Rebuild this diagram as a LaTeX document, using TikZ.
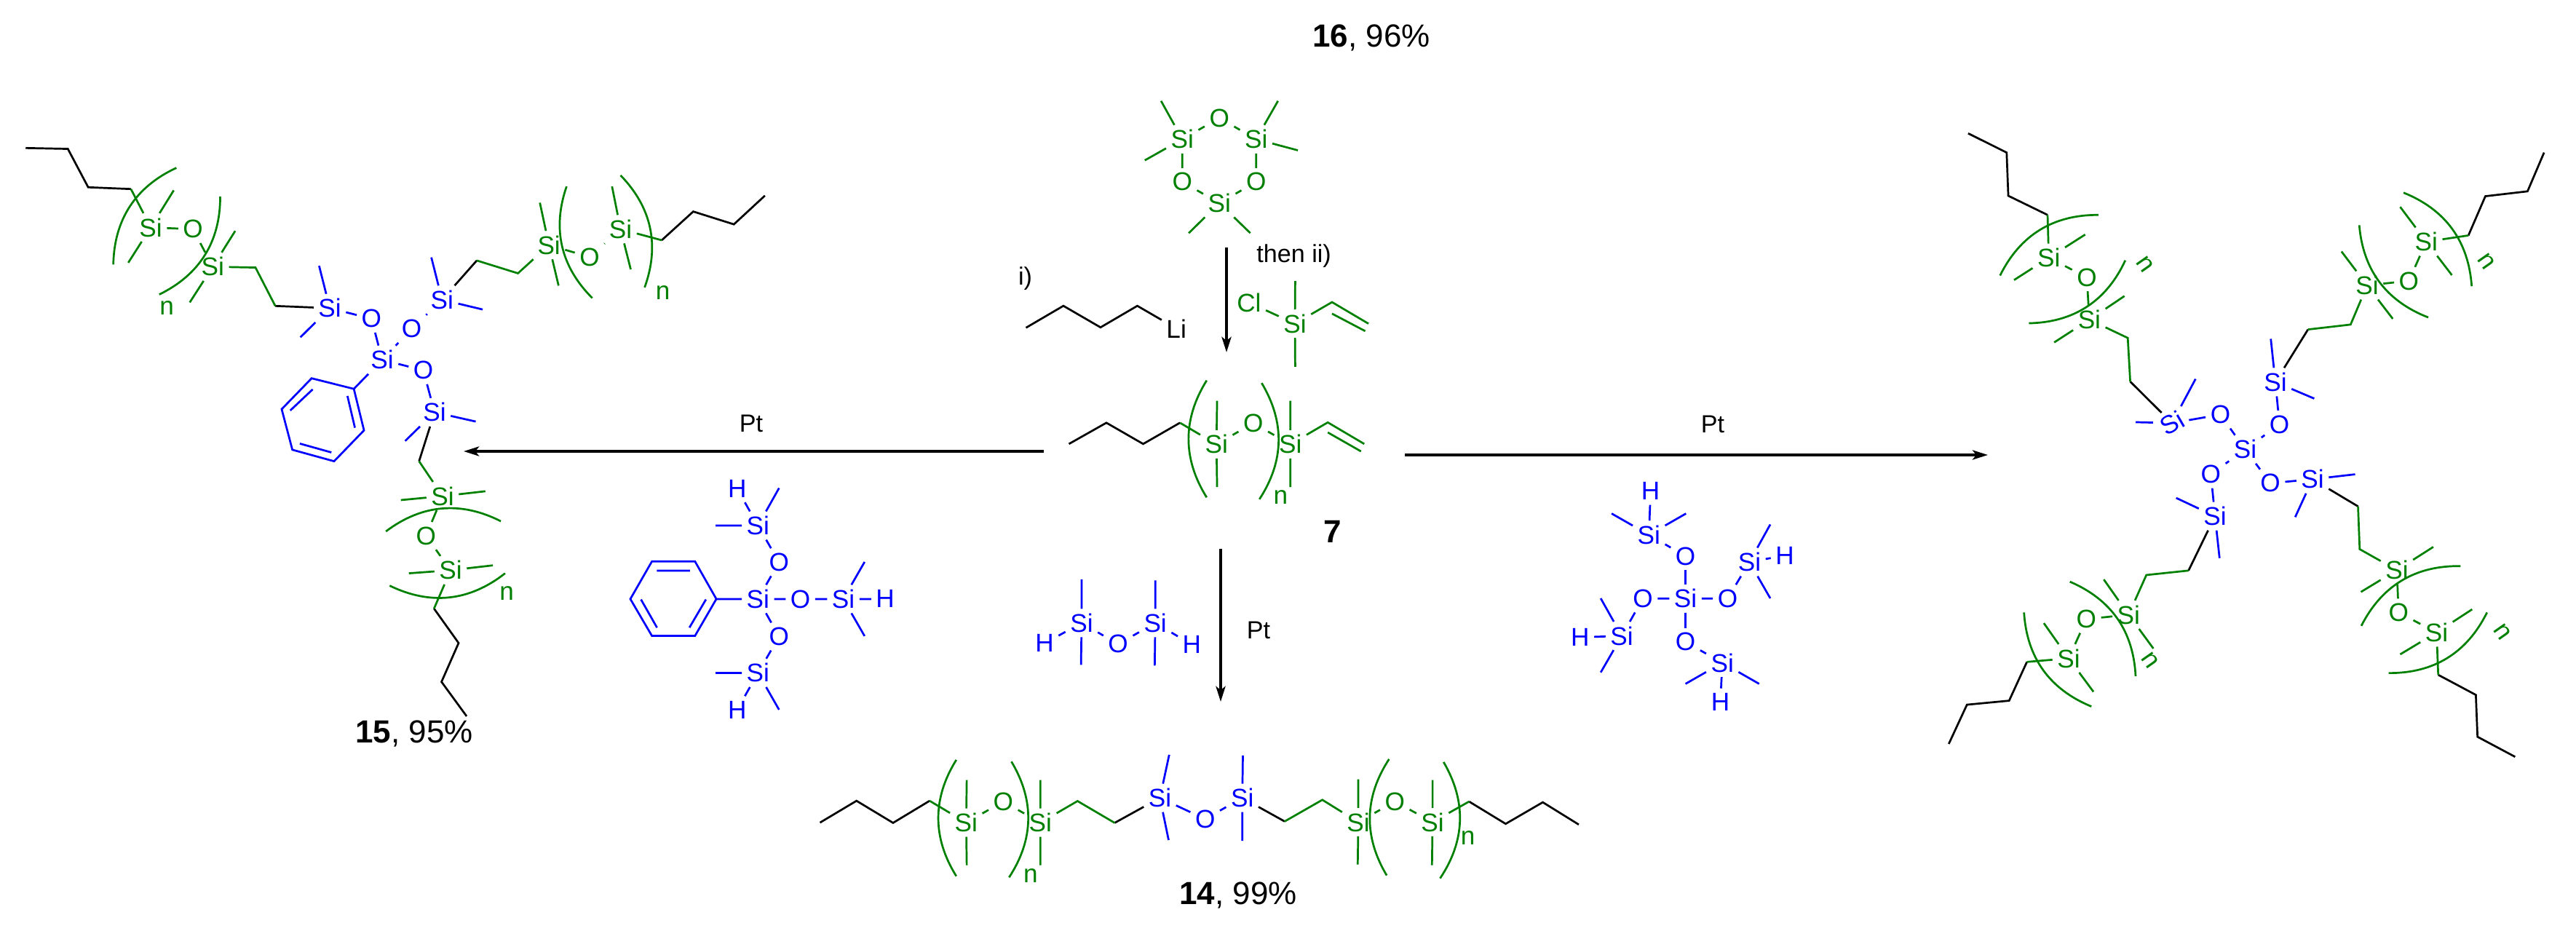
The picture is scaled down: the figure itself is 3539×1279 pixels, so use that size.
\documentclass[tikz,border=0pt]{standalone}
\usepackage{fontspec}
\setmainfont{Liberation Sans}
\usetikzlibrary{arrows.meta}
\definecolor{sigreen}{RGB}{0,128,0}
\definecolor{siblue}{RGB}{0,0,255}
\newcommand{\atomfont}{\fontsize{10}{12}\selectfont}
\tikzset{
  ga/.style={inner sep=1.5pt,font=\atomfont,text=sigreen},
  ba/.style={inner sep=1.5pt,font=\atomfont,text=siblue},
  ka/.style={inner sep=1.5pt,font=\atomfont},
  lab/.style={inner sep=0pt,font=\fontsize{9.7}{11}\selectfont},
  res/.style={inner sep=0pt,font=\fontsize{12.5}{14}\selectfont},
  gb/.style={draw=sigreen},
  bb/.style={draw=siblue},
  pa/.style={bend right=32},
  rxn/.style={line width=1.1pt,-{Stealth[length=0.21cm,width=0.13cm,inset=0.05cm]}},
  frameleft/.style={shift={(0,150)},x=0.007334cm,y=-0.006059cm},
  framemid/.style={shift={(1350,0)},x=0.004464cm,y=-0.005102cm},
  frameright/.style={shift={(2650,130)},x=0.005670cm,y=-0.006122cm},
  framelow/.style={shift={(1050,780)},x=0.007972cm,y=-0.003333cm},
  framephenyl/.style={shift={(850,550)},x=0.003333cm,y=-0.003333cm},
  frametetra/.style={shift={(2050,600)},x=0.003333cm,y=-0.003333cm},
}
\begin{document}
\begin{tikzpicture}[x=0.01cm,y=-0.01cm,line width=0.77pt]
\useasboundingbox (0,0) rectangle (3539,1279);

% arrows and results
\path (1434,620) coordinate (leftfrom) (637,620) coordinate (leftto)
      (1930,625) coordinate (rightfrom) (2731,625) coordinate (rightto)
      (1685,340) coordinate (topfrom) (1685,484) coordinate (topto)
      (1677,754) coordinate (lowfrom) (1677,964) coordinate (lowto);
\draw[rxn] (leftfrom) -- (leftto);
\draw[rxn] (rightfrom) -- (rightto);
\draw[rxn] (topfrom) -- (topto);
\draw[rxn] (lowfrom) -- (lowto);
\path (1032,582) node[lab] (ptleft) {Pt}
      (2353,583) node[lab] (ptright) {Pt}
      (1729,866) node[lab] (ptlow) {Pt}
      (1884,52)  node[res] (res16) {\textbf{16}, 96\%}
      (1701,1230) node[res] (res14) {\textbf{14}, 99\%}
      (569,1008) node[res] (res15) {\textbf{15}, 95\%}
      (1831,730) node[res] (res7) {\textbf{7}};

% cyclic trimer, reagents and 7
\begin{scope}[framemid,name prefix=M-]
\path (613,375) node[ga] (sia) {Si} (727,318) node[ga] (oa) {O}
      (840,375) node[ga] (sib) {Si} (840,490) node[ga] (ob) {O}
      (727,547) node[ga] (sic) {Si} (613,490) node[ga] (oc) {O};
\path (548,272) coordinate (ma1) (498,432) coordinate (ma2)
      (907,272) coordinate (mb1) (968,405) coordinate (mb2)
      (633,628) coordinate (mc1) (822,628) coordinate (mc2);
\draw[gb] (sia) -- (oa) -- (sib) -- (ob) -- (sic) -- (oc) -- (sia);
\draw[gb] (sia) -- (ma1) (sia) -- (ma2) (sib) -- (mb1) (sib) -- (mb2)
          (sic) -- (mc1) (sic) -- (mc2);

% butyl lithium
\path (131,750) node[lab] (ione) {i)} (956,690) node[lab] (itwo) {then ii)}
      (595,885) node[ka] (li) {Li};
\path (133,883) coordinate (bu1) (248,824) coordinate (bu2)
      (362,882) coordinate (bu3) (475,824) coordinate (bu4);
\draw (bu1) -- (bu2) -- (bu3) -- (bu4) -- (li);

% chlorosilane
\path (818,815) node[ga] (cl) {Cl} (959,872) node[ga] (sicl) {Si};
\path (960,757) coordinate (mcl1) (960,988) coordinate (mcl2)
      (1073,814) coordinate (vc1) (1185,872) coordinate (vc2)
      (1073,845) coordinate (vc3) (1175,892) coordinate (vc4);
\draw[gb] (cl) -- (sicl) (sicl) -- (mcl1) (sicl) -- (mcl2) (sicl) -- (vc1) -- (vc2) (vc3) -- (vc4);

% 7
\path (718,1197) node[ga] (si1) {Si} (831,1140) node[ga] (o1) {O}
      (945,1197) node[ga] (si2) {Si} (915,1340) node[ga] (nn) {n};
\path (265,1196) coordinate (ch1) (380,1139) coordinate (ch2)
      (493,1196) coordinate (ch3) (606,1139) coordinate (ch4)
      (720,1080) coordinate (m11) (720,1312) coordinate (m12)
      (945,1080) coordinate (m21) (945,1312) coordinate (m22)
      (1060,1138) coordinate (v1) (1172,1196) coordinate (v2)
      (1060,1165) coordinate (v3) (1162,1216) coordinate (v4);
\draw (ch1) -- (ch2) -- (ch3) -- (ch4);
\draw[gb] (ch4) -- (si1) -- (o1) -- (si2) -- (v1) -- (v2) (v3) -- (v4);
\draw[gb] (si1) -- (m11) (si1) -- (m12) (si2) -- (m21) (si2) -- (m22);
\draw[gb] (688,1025) to[pa] (688,1340);
\draw[gb] (850,1345) to[pa] (857,1032);
\end{scope}

% phenyl silane reagent
\begin{scope}[framephenyl,name prefix=P-]
\path (575,820) node[ba] (si0) {Si} (662,668) node[ba] (o1) {O}
      (575,517) node[ba] (si1) {Si} (489,365) node[ba] (h1) {H}
      (750,820) node[ba] (o2) {O} (927,820) node[ba] (si2) {Si} (1100,820) node[ba] (h2) {H}
      (662,975) node[ba] (o3) {O} (575,1125) node[ba] (si3) {Si} (489,1277) node[ba] (h3) {H};
\path (662,362) coordinate (m11) (400,517) coordinate (m12)
      (1015,667) coordinate (m21) (1015,973) coordinate (m22)
      (400,1125) coordinate (m31) (662,1277) coordinate (m32)
      (403,820) coordinate (r1) (315,665) coordinate (r2) (137,665) coordinate (r3)
      (48,820) coordinate (r4) (137,972) coordinate (r5) (315,972) coordinate (r6)
      (157,703) coordinate (d1) (294,703) coordinate (d2)
      (92,822) coordinate (d3) (158,938) coordinate (d4)
      (360,822) coordinate (d5) (292,938) coordinate (d6);
\draw[bb] (si0) -- (o1) -- (si1) -- (h1) (si0) -- (o2) -- (si2) -- (h2) (si0) -- (o3) -- (si3) -- (h3);
\draw[bb] (si1) -- (m11) (si1) -- (m12) (si2) -- (m21) (si2) -- (m22) (si3) -- (m31) (si3) -- (m32);
\draw[bb] (si0) -- (r1) -- (r2) -- (r3) -- (r4) -- (r5) -- (r6) -- (r1);
\draw[bb] (d1) -- (d2) (d3) -- (d4) (d5) -- (d6);
\end{scope}

% dimer reagent and 14
\begin{scope}[framelow,name prefix=D-]
\path (547,228) node[ba] (si1) {Si} (674,228) node[ba] (si2) {Si}
      (610,315) node[ba] (o1) {O} (483,312) node[ba] (h1) {H} (737,317) node[ba] (h2) {H};
\path (547,48) coordinate (m11) (546,401) coordinate (m12)
      (674,52) coordinate (m21) (673,404) coordinate (m22);
\draw[bb] (h1) -- (si1) -- (o1) -- (si2) -- (h2);
\draw[bb] (si1) -- (m11) (si1) -- (m12) (si2) -- (m21) (si2) -- (m22);

\path (348,1052) node[ga] (sia) {Si} (412,965) node[ga] (oa) {O} (476,1052) node[ga] (sib) {Si}
      (682,950) node[ba] (sic) {Si} (760,1037) node[ba] (ob) {O} (824,950) node[ba] (sid) {Si}
      (1024,1050) node[ga] (sie) {Si} (1087,965) node[ga] (oc) {O} (1152,1050) node[ga] (sif) {Si}
      (459,1272) node[ga] (n1) {n} (1213,1115) node[ga] (n2) {n};
\path (96,1052) coordinate (c1) (159,962) coordinate (c2) (222,1053) coordinate (c3) (285,962) coordinate (c4)
      (540,963) coordinate (c5) (604,1053) coordinate (c6) (897,1047) coordinate (c7) (962,958) coordinate (c8)
      (1215,965) coordinate (c9) (1278,1057) coordinate (c10) (1342,968) coordinate (c11) (1404,1060) coordinate (c12)
      (349,876) coordinate (ma1) (349,1228) coordinate (ma2) (476,876) coordinate (mb1) (476,1228) coordinate (mb2)
      (698,772) coordinate (mc1) (697,1124) coordinate (mc2) (825,775) coordinate (md1) (824,1127) coordinate (md2)
      (1024,873) coordinate (me1) (1023,1225) coordinate (me2) (1152,876) coordinate (mf1) (1151,1228) coordinate (mf2);
\draw (c1) -- (c2) -- (c3) -- (c4) (c6) -- (sic) (sid) -- (c7) (c9) -- (c10) -- (c11) -- (c12);
\draw[gb] (c4) -- (sia) -- (oa) -- (sib) -- (c5) -- (c6) (c7) -- (c8) -- (sie) -- (oc) -- (sif) -- (c9);
\draw[bb] (sic) -- (ob) -- (sid);
\draw[gb] (sia) -- (ma1) (sia) -- (ma2) (sib) -- (mb1) (sib) -- (mb2) (sie) -- (me1) (sie) -- (me2) (sif) -- (mf1) (sif) -- (mf2);
\draw[bb] (sic) -- (mc1) (sic) -- (mc2) (sid) -- (md1) (sid) -- (md2);
\draw[gb] (331,793) to[pa] (331,1273);
\draw[gb] (422,1278) to[pa] (426,800);
\draw[gb] (1077,790) to[pa] (1073,1270);
\draw[gb] (1165,1282) to[pa] (1171,802);
\end{scope}

% tetra silane reagent
\begin{scope}[frametetra,name prefix=T-]
\path (798,668) node[ba] (si0) {Si} (798,493) node[ba] (o1) {O} (972,668) node[ba] (o2) {O}
      (798,847) node[ba] (o3) {O} (622,668) node[ba] (o4) {O}
      (647,405) node[ba] (si1) {Si} (654,225) node[ba] (h1) {H}
      (1062,517) node[ba] (si2) {Si} (1208,490) node[ba] (h2) {H}
      (950,933) node[ba] (si3) {Si} (942,1095) node[ba] (h3) {H}
      (535,822) node[ba] (si4) {Si} (363,828) node[ba] (h4) {H};
\path (493,317) coordinate (m11) (800,317) coordinate (m12) (1148,362) coordinate (m21) (1148,667) coordinate (m22)
      (798,1020) coordinate (m31) (1102,1020) coordinate (m32) (448,667) coordinate (m41) (448,973) coordinate (m42);
\draw[bb] (si0) -- (o1) -- (si1) -- (h1) (si0) -- (o2) -- (si2) -- (h2) (si0) -- (o3) -- (si3) -- (h3) (si0) -- (o4) -- (si4) -- (h4);
\draw[bb] (si1) -- (m11) (si1) -- (m12) (si2) -- (m21) (si2) -- (m22) (si3) -- (m31) (si3) -- (m32) (si4) -- (m41) (si4) -- (m42);
\end{scope}

% 15
\begin{scope}[frameleft,name prefix=L-]
\path (715,568) node[ba] (si0) {Si} (695,475) node[ba] (o1) {O} (770,498) node[ba] (o2) {O} (792,592) node[ba] (o3) {O}
      (617,451) node[ba] (si1) {Si} (827,432) node[ba] (si2) {Si} (813,687) node[ba] (si3) {Si};
\path (597,355) coordinate (m11) (562,517) coordinate (m12) (807,336) coordinate (m21) (903,454) coordinate (m22)
      (890,708) coordinate (m31) (758,752) coordinate (m32)
      (662,634) coordinate (r1) (583,610) coordinate (r2) (527,680) coordinate (r3)
      (547,772) coordinate (r4) (625,798) coordinate (r5) (681,728) coordinate (r6)
      (585,635) coordinate (d1) (543,683) coordinate (d2) (561,758) coordinate (d3) (620,778) coordinate (d4)
      (650,650) coordinate (d5) (664,722) coordinate (d6);
\draw[bb] (si1) -- (o1) -- (si0) -- (o2) -- (si2) (si0) -- (o3) -- (si3);
\draw[bb] (si1) -- (m11) (si1) -- (m12) (si2) -- (m21) (si2) -- (m22) (si3) -- (m31) (si3) -- (m32);
\draw[bb] (si0) -- (r1) -- (r2) -- (r3) -- (r4) -- (r5) -- (r6) -- (r1) (d1) -- (d2) (d3) -- (d4) (d5) -- (d6);

% first arm
\path (282,268) node[ga] (sia) {Si} (361,272) node[ga] (oa) {O} (398,357) node[ga] (sib) {Si} (312,450) node[ga] (na) {n};
\path (48,88) coordinate (a1) (127,90) coordinate (a2) (165,177) coordinate (a3) (245,181) coordinate (a4)
      (478,359) coordinate (a5) (515,446) coordinate (a6)
      (325,184) coordinate (ma1) (240,348) coordinate (ma2) (440,276) coordinate (mb1) (355,438) coordinate (mb2);
\draw (a1) -- (a2) -- (a3) -- (a4) (a6) -- (si1);
\draw[gb] (a4) -- (sia) -- (oa) -- (sib) -- (a5) -- (a6);
\draw[gb] (sia) -- (ma1) (sia) -- (ma2) (sib) -- (mb1) (sib) -- (mb2);
\draw[gb] (330,133) to[pa] (212,352);
\draw[gb] (298,420) to[pa] (412,198);

% second arm
\path (1027,308) node[ga] (sic) {Si} (1103,335) node[ga] (ob) {O} (1161,272) node[ga] (sid) {Si} (1240,416) node[ga] (nb) {n};
\path (892,343) coordinate (b1) (969,372) coordinate (b2) (1238,297) coordinate (b3)
      (1297,232) coordinate (b4) (1373,261) coordinate (b5) (1431,196) coordinate (b6)
      (1010,212) coordinate (mc1) (1045,400) coordinate (mc2) (1145,175) coordinate (md1) (1180,363) coordinate (md2);
\draw (si2) -- (b1) (b3) -- (b4) -- (b5) -- (b6);
\draw[gb] (b1) -- (b2) -- (sic) -- (ob) -- (sid) -- (b3);
\draw[gb] (sic) -- (mc1) (sic) -- (mc2) (sid) -- (md1) (sid) -- (md2);
\draw[gb] (1060,175) to[pa] (1108,428);
\draw[gb] (1206,404) to[pa] (1161,150);

% third arm
\path (828,877) node[ga] (sie) {Si} (797,967) node[ga] (oc) {O} (843,1045) node[ga] (sif) {Si} (948,1098) node[ga] (nc) {n};
\path (784,798) coordinate (c1) (812,1132) coordinate (c2) (858,1210) coordinate (c3) (826,1298) coordinate (c4) (873,1376) coordinate (c5)
      (750,886) coordinate (me1) (908,866) coordinate (me2) (765,1052) coordinate (mf1) (922,1034) coordinate (mf2);
\draw (si3) -- (c1) (c2) -- (c3) -- (c4) -- (c5);
\draw[gb] (c1) -- (sie) -- (oc) -- (sif) -- (c2);
\draw[gb] (sie) -- (me1) (sie) -- (me2) (sif) -- (mf1) (sif) -- (mf2);
\draw[gb] (937,934) to[pa] (722,957);
\draw[gb] (729,1080) to[pa] (945,1052);
\end{scope}

% 16
\begin{scope}[frameright,name prefix=R-]
\path (765,796) node[ba] (si0) {Si} (705,718) node[ba] (o1) {O} (848,740) node[ba] (o2) {O}
      (682,852) node[ba] (o3) {O} (826,872) node[ba] (o4) {O}
      (588,737) node[ba,rotate=30] (si1) {Si} (838,645) node[ba] (si2) {Si}
      (692,946) node[ba] (si3) {Si} (928,863) node[ba] (si4) {Si};
\path (500,735) coordinate (m11) (645,638) coordinate (m12) (827,548) coordinate (m21) (932,682) coordinate (m22)
      (598,905) coordinate (m31) (703,1040) coordinate (m32) (1031,852) coordinate (m41) (886,948) coordinate (m42);
\draw[bb] (si0) -- (o1) -- (si1) (si0) -- (o2) -- (si2) (si0) -- (o3) -- (si3) (si0) -- (o4) -- (si4);
\draw[bb] (si1) -- (m11) (si1) -- (m12) (si2) -- (m21) (si2) -- (m22) (si3) -- (m31) (si3) -- (m32) (si4) -- (m41) (si4) -- (m42);

% upper left arm
\path (388,505) node[ga] (sia) {Si} (382,410) node[ga] (oa) {O} (290,366) node[ga] (sib) {Si} (523,380) node[ga,rotate=-55] (na) {n};
\path (487,644) coordinate (a1) (481,546) coordinate (a2) (287,270) coordinate (a3) (192,227) coordinate (a4) (188,130) coordinate (a5) (95,87) coordinate (a6)
      (473,452) coordinate (ma1) (303,556) coordinate (ma2) (378,314) coordinate (mb1) (206,416) coordinate (mb2);
\draw (si1) -- (a1) (a3) -- (a4) -- (a5) -- (a6);
\draw[gb] (a1) -- (a2) -- (sia) -- (oa) -- (sib) -- (a3);
\draw[gb] (sia) -- (ma1) (sia) -- (ma2) (sib) -- (mb1) (sib) -- (mb2);
\draw[gb] (410,270) to[pa] (172,406);
\draw[gb] (242,513) to[pa] (475,372);

% upper right arm
\path (1060,428) node[ga] (sic) {Si} (1161,418) node[ga] (ob) {O} (1203,330) node[ga] (sid) {Si} (1348,375) node[ga,rotate=-55] (nb) {n};
\path (917,527) coordinate (b1) (1020,516) coordinate (b2) (1305,316) coordinate (b3) (1346,228) coordinate (b4) (1448,217) coordinate (b5) (1488,130) coordinate (b6)
      (998,352) coordinate (mc1) (1122,503) coordinate (mc2) (1140,252) coordinate (md1) (1265,405) coordinate (md2);
\draw (si2) -- (b1) (b3) -- (b4) -- (b5) -- (b6);
\draw[gb] (b1) -- (b2) -- (sic) -- (ob) -- (sid) -- (b3);
\draw[gb] (sic) -- (mc1) (sic) -- (mc2) (sid) -- (md1) (sid) -- (md2);
\draw[gb] (1041,293) to[pa] (1208,500);
\draw[gb] (1313,430) to[pa] (1148,220);

% lower right arm
\path (1132,1067) node[ga] (sie) {Si} (1136,1162) node[ga] (oc) {O} (1228,1207) node[ga] (sif) {Si} (1387,1205) node[ga,rotate=-55] (nc) {n};
\path (1038,924) coordinate (c1) (1042,1020) coordinate (c2) (1232,1302) coordinate (c3) (1323,1347) coordinate (c4) (1327,1441) coordinate (c5) (1418,1486) coordinate (c6)
      (1220,1015) coordinate (me1) (1045,1116) coordinate (me2) (1314,1155) coordinate (mf1) (1140,1256) coordinate (mf2);
\draw (si4) -- (c1) (c3) -- (c4) -- (c5) -- (c6);
\draw[gb] (c1) -- (c2) -- (sie) -- (oc) -- (sif) -- (c3);
\draw[gb] (sie) -- (me1) (sie) -- (me2) (sif) -- (mf1) (sif) -- (mf2);
\draw[gb] (1286,1058) to[pa] (1046,1192);
\draw[gb] (1112,1298) to[pa] (1350,1162);

% lower left arm
\path (483,1167) node[ga] (sig) {Si} (381,1177) node[ga] (od) {O} (338,1265) node[ga] (sih) {Si} (535,1270) node[ga,rotate=-55] (nd) {n};
\path (628,1068) coordinate (d1) (526,1078) coordinate (d2) (237,1273) coordinate (d3) (194,1360) coordinate (d4) (92,1369) coordinate (d5) (48,1457) coordinate (d6)
      (423,1088) coordinate (mg1) (543,1243) coordinate (mg2) (278,1186) coordinate (mh1) (398,1340) coordinate (mh2);
\draw (si3) -- (d1) (d3) -- (d4) -- (d5) -- (d6);
\draw[gb] (d1) -- (d2) -- (sig) -- (od) -- (sih) -- (d3);
\draw[gb] (sig) -- (mg1) (sig) -- (mg2) (sih) -- (mh1) (sih) -- (mh2);
\draw[gb] (500,1305) to[pa] (341,1093);
\draw[gb] (230,1162) to[pa] (393,1373);
\end{scope}
\end{tikzpicture}
\end{document}
